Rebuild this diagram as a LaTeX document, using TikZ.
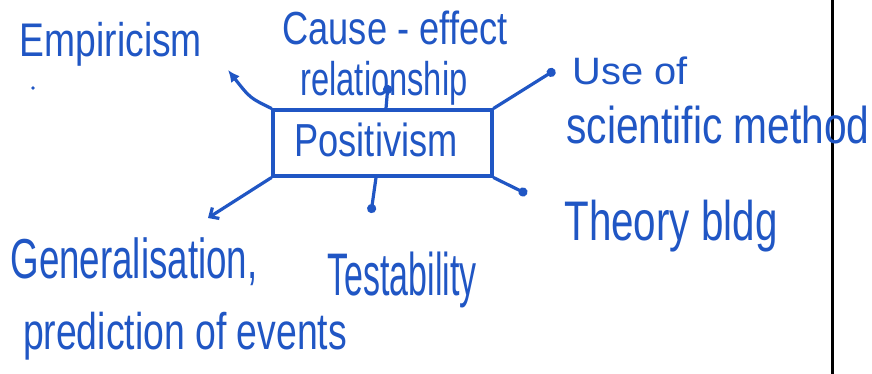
\documentclass[tikz,border=0pt]{standalone}
\usepackage{graphicx}
\usepackage{fontspec}
\setmainfont{Liberation Sans}
\usetikzlibrary{arrows.meta}
\definecolor{ink}{RGB}{32,86,196}
% set a label at a given printed width and total height
\newcommand\hw[3]{\resizebox*{#1pt}{#2pt}{#3}}
\tikzset{
  lbl/.style={inner sep=0pt, text=ink, anchor=center},
  conn/.style={draw=ink, line width=3.2pt, line cap=round},
  dotend/.style={conn, -{Circle[length=9pt,width=9pt]}},
  tipend/.style={conn, -{Latex[length=12pt,width=11pt]}},
  barbend/.style={conn, -{Straight Barb[length=7pt,width=13pt]}},
  hub/.style={draw=ink, line width=3.2pt, minimum width=219pt, minimum height=66pt, inner sep=0pt}
}
\begin{document}
\begin{tikzpicture}[x=1pt,y=-1pt]
\useasboundingbox (0,0) rectangle (872,374);
\fill[white] (0,0) rectangle (872,374);

% page margin rule
\draw[black, line width=3pt] (832,0) -- (832,374);

% central concept
\node[hub] (pos) at (382.5,143) {};
\node[lbl] (postxt) at (376,140) {\hw{163}{34}{Positivism}};

% surrounding labels
\node[lbl] (emp)   at (111,44)  {\hw{182}{44}{Empiricism}};
\node[lbl] (cause) at (395,28)  {\hw{225}{34}{Cause - effect}};
\node[lbl] (rel)   at (384,83)  {\hw{167}{44}{relationship}};
\node[lbl] (use)   at (630,71)  {\hw{115}{28}{Use of}};
\node[lbl] (sci)   at (718,125) {\hw{303}{38}{scientific method}};
\node[lbl] (theo)  at (671,226) {\hw{213}{52}{Theory bldg}};
\node[lbl] (gen)   at (134,262) {\hw{247}{48}{Generalisation,}};
\node[lbl] (pred)  at (185,336) {\hw{324}{48}{prediction of events}};
\node[lbl] (test)  at (402,280) {\hw{149}{56}{Testability}};

% free ends of the connectors
\coordinate (eEmp)  at (228,70);
\coordinate (eRel)  at (388,85);
\coordinate (eUse)  at (555,70);
\coordinate (eTheo) at (527,194);
\coordinate (eGen)  at (208,218);
\coordinate (eTest) at (371,213);

\draw[tipend]  (pos.north west) .. controls (250,98) .. (eEmp);
\draw[dotend]  (pos.north west -| 386,0) -- (eRel);
\draw[dotend]  (pos.north east) -- (eUse);
\draw[dotend]  (pos.south east) -- (eTheo);
\draw[barbend] (pos.south west) -- (eGen);
\draw[dotend]  (pos.south west -| 376,0) -- (eTest);

% stray pen mark
\fill[ink] (33,88) circle (1.8pt);
\end{tikzpicture}
\end{document}
